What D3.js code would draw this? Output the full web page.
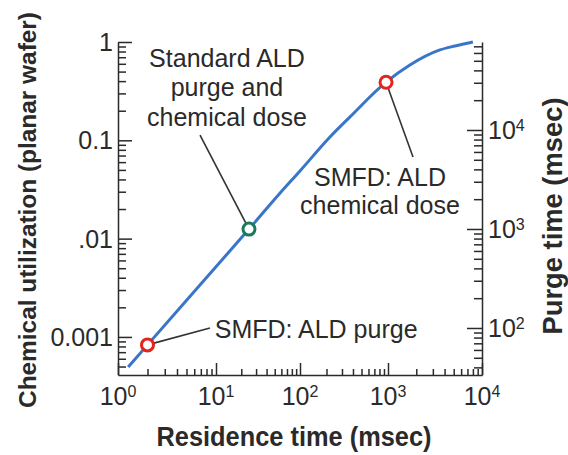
<!DOCTYPE html>
<html><head><meta charset="utf-8">
<script src="https://cdn.jsdelivr.net/npm/d3@7"></script>
<style>body{margin:0;background:#fff} text{font-family:"Liberation Sans",Arial,Helvetica,sans-serif}</style>
</head><body><svg id="c" width="568" height="455"></svg>
<script>
// ---- data ----
const residenceTime = [1.27, 2.0, 24.7, 58, 100, 219, 370, 950, 1710, 3570, 5160, 8000];
const utilization   = [0.000494, 0.00083, 0.0125, 0.0291, 0.0488, 0.108, 0.173, 0.39, 0.583, 0.83, 0.91, 1.0];

const markerTime = [2.0, 24.7, 950];
const markerUtil = [0.00083, 0.0125, 0.39];
const markerKind = ["SMFD", "Standard", "SMFD"];

const utilTicks = [1, 0.1, 0.01, 0.001];
const utilTickLabels = ["1", "0.1", ".01", "0.001"];
const timeTicks = [1, 10, 100, 1000, 10000];
const timeTickExp = ["0", "1", "2", "3", "4"];
const purgeTicks = [100, 1000, 10000];
const purgeTickExp = ["2", "3", "4"];

const annotLines = [
  ["Standard ALD", "purge and", "chemical dose"],
  ["SMFD: ALD purge"],
  ["SMFD: ALD", "chemical dose"]
];
// text anchor and leader start in data coordinates (time, utilization)
const annotTextTime = [13.5, 9.7, 811];
const annotTextUtil = [0.557, 0.000977, 0.0343];
const annotLeadTime = [6.87, 8.68, 1845];
const annotLeadUtil = [0.113, 0.00123, 0.0677];
const annotMarker = [1, 0, 2];

const xTitle = "Residence time (msec)";
const yTitle = "Chemical utilization (planar wafer)";
const y2Title = "Purge time (msec)";

// ---- layout ----
const svg = d3.select("#c");
const L = 118, R = 482, T = 42, B = 375;
const x = d3.scaleLog().domain([1, 10, 100, 1000, 10000]).range([L, 216, 300, 388, R]);
const y = d3.scaleLog().domain([0.00041, 1]).range([B, T]);
const y2 = d3.scaleLog().domain([33.5, 77400]).range([B, T]);

const ink = "#2a2a2a";
function minorTicks(scale) {
  const [a, b] = d3.extent(scale.domain());
  const out = [];
  for (let e = Math.floor(Math.log10(a)); e <= Math.ceil(Math.log10(b)); e++) {
    for (let m = 2; m <= 9; m++) {
      const v = m * Math.pow(10, e);
      if (v >= a && v <= b) out.push(v);
    }
  }
  return out;
}
function styleAxis(g) {
  g.selectAll("path, line").attr("stroke", ink).attr("stroke-width", 1.5);
  g.selectAll("text").remove();
}
// left axis
svg.append("g").attr("transform", `translate(${L},0)`)
  .call(d3.axisLeft(y).tickValues(utilTicks).tickSizeInner(-14).tickSizeOuter(0).tickFormat(""))
  .call(styleAxis);
svg.append("g").attr("transform", `translate(${L},0)`)
  .call(d3.axisLeft(y).tickValues(minorTicks(y)).tickSizeInner(-8).tickSizeOuter(0).tickFormat(""))
  .call(styleAxis).call(g => g.select(".domain").remove());
// bottom axis
svg.append("g").attr("transform", `translate(0,${B})`)
  .call(d3.axisBottom(x).tickValues(timeTicks).tickSizeInner(-12).tickSizeOuter(0).tickFormat(""))
  .call(styleAxis);
svg.append("g").attr("transform", `translate(0,${B})`)
  .call(d3.axisBottom(x).tickValues(minorTicks(x)).tickSizeInner(-6).tickSizeOuter(0).tickFormat(""))
  .call(styleAxis).call(g => g.select(".domain").remove());
// right axis
svg.append("g").attr("transform", `translate(${R},0)`)
  .call(d3.axisRight(y2).tickValues(purgeTicks).tickSizeInner(-15).tickSizeOuter(0).tickFormat(""))
  .call(styleAxis);
svg.append("g").attr("transform", `translate(${R},0)`)
  .call(d3.axisRight(y2).tickValues(minorTicks(y2)).tickSizeInner(-8).tickSizeOuter(0).tickFormat(""))
  .call(styleAxis).call(g => g.select(".domain").remove());

// tick labels
svg.append("g").selectAll("text").data(utilTicks).join("text")
  .attr("x", L - 5).attr("y", d => y(d) + 9)
  .attr("text-anchor", "end").attr("font-size", 25).attr("fill", ink)
  .text((d, i) => utilTickLabels[i]);

const xl = svg.append("g").selectAll("text").data(timeTicks).join("text")
  .attr("x", d => x(d)).attr("y", 405)
  .attr("text-anchor", "middle").attr("font-size", 25).attr("fill", ink);
xl.append("tspan").text("10");
xl.append("tspan").attr("dy", -8).attr("font-size", 16).text((d, i) => timeTickExp[i]);

const yl = svg.append("g").selectAll("text").data(purgeTicks).join("text")
  .attr("x", R + 6).attr("y", d => y2(d) + 9)
  .attr("text-anchor", "start").attr("font-size", 25).attr("fill", ink);
yl.append("tspan").text("10");
yl.append("tspan").attr("dy", -8).attr("font-size", 16).text((d, i) => purgeTickExp[i]);

// titles
svg.append("text").attr("x", (L + R) / 2 - 6).attr("y", 446)
  .attr("text-anchor", "middle").attr("font-size", 27).attr("font-weight", "bold").attr("fill", ink)
  .attr("textLength", 275).attr("lengthAdjust", "spacingAndGlyphs").text(xTitle);
svg.append("text").attr("transform", "translate(36,210) rotate(-90)")
  .attr("text-anchor", "middle").attr("font-size", 24.5).attr("font-weight", "bold").attr("fill", ink)
  .attr("textLength", 396).attr("lengthAdjust", "spacingAndGlyphs").text(yTitle);
svg.append("text").attr("transform", "translate(562,216) rotate(-90)")
  .attr("text-anchor", "middle").attr("font-size", 27).attr("font-weight", "bold").attr("fill", ink)
  .attr("textLength", 237).attr("lengthAdjust", "spacingAndGlyphs").text(y2Title);

// curve
const pts = residenceTime.map((t, i) => [x(t), y(utilization[i])]);
svg.append("path").attr("d", d3.line().curve(d3.curveMonotoneX)(pts))
  .attr("fill", "none").attr("stroke", "#3a76c8").attr("stroke-width", 3);

// leader lines
annotLines.forEach((lines, i) => {
  const m = annotMarker[i];
  svg.append("line")
    .attr("x1", x(annotLeadTime[i])).attr("y1", y(annotLeadUtil[i]))
    .attr("x2", x(markerTime[m])).attr("y2", y(markerUtil[m]))
    .attr("stroke", "#333").attr("stroke-width", 1.6);
});

// markers
svg.append("g").selectAll("circle").data(markerTime).join("circle")
  .attr("cx", d => x(d)).attr("cy", (d, i) => y(markerUtil[i])).attr("r", 6)
  .attr("fill", "#fff").attr("stroke-width", 3)
  .attr("stroke", (d, i) => markerKind[i] === "SMFD" ? "#e5231b" : "#1a7a5c");

// annotation text
const lineGap = [29.5, 0, 28];
annotLines.forEach((lines, i) => {
  const anchor = lines.length > 1 ? "middle" : "start";
  lines.forEach((s, j) => {
    svg.append("text").attr("x", x(annotTextTime[i])).attr("y", y(annotTextUtil[i]) + j * lineGap[i])
      .attr("text-anchor", anchor).attr("font-size", 25).attr("fill", ink).text(s);
  });
});
</script></body></html>
